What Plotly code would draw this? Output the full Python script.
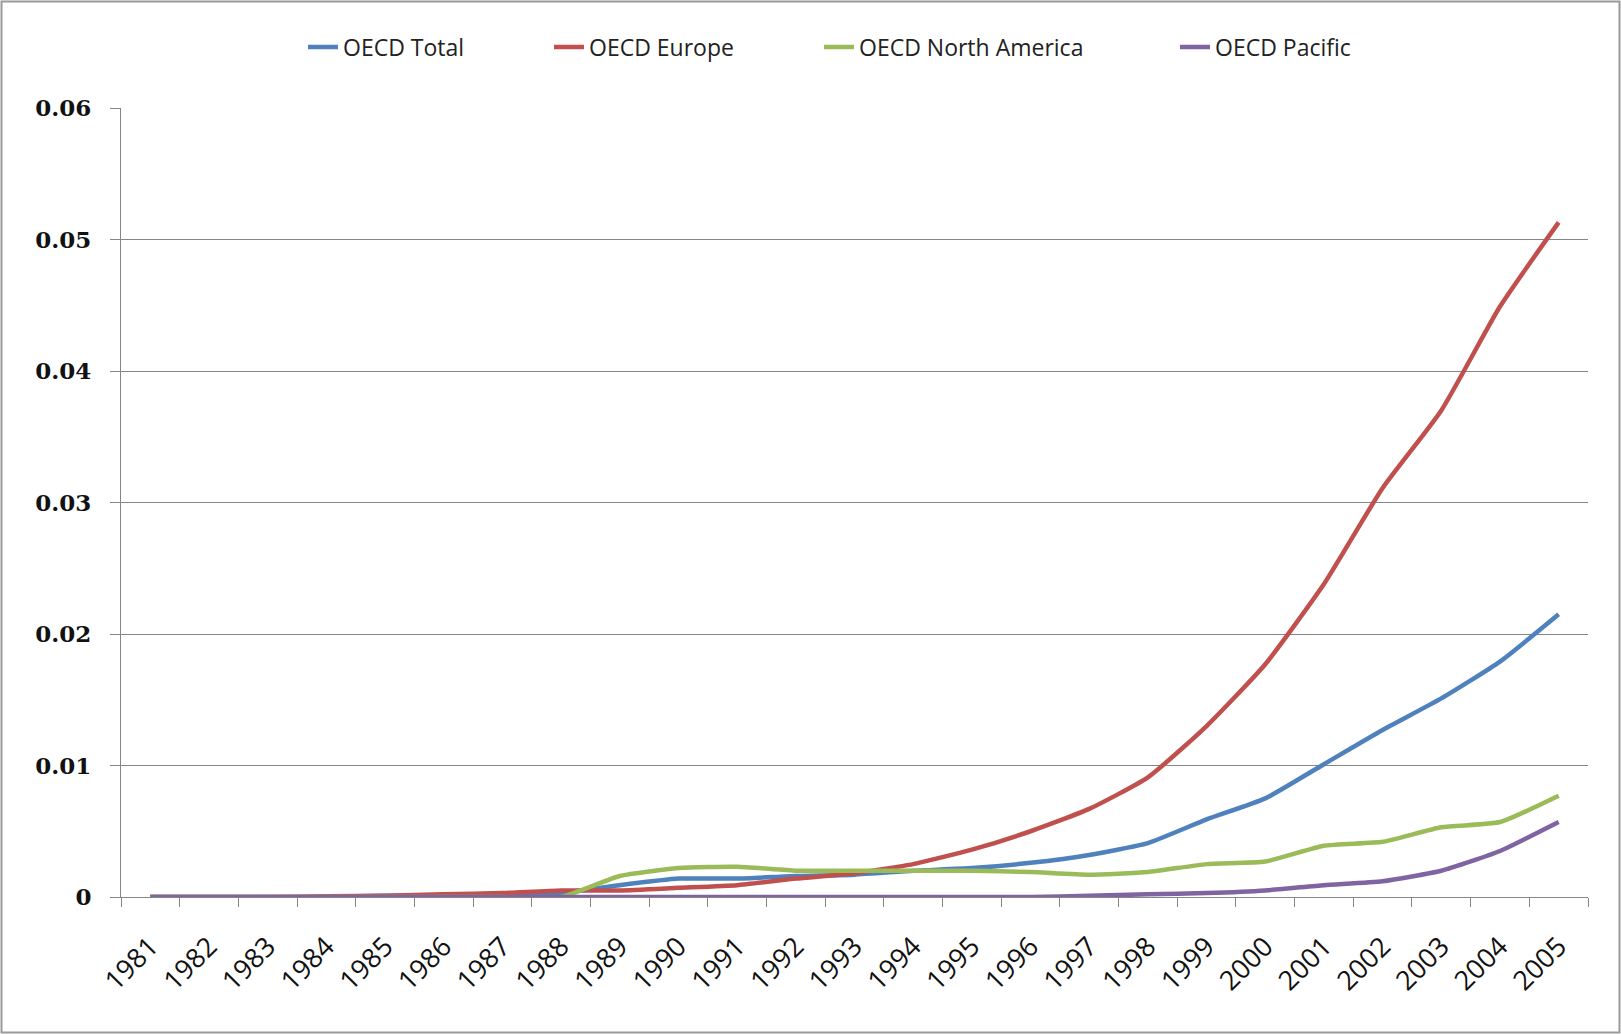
import plotly.graph_objects as go

years = [str(y) for y in range(1981, 2006)]

oecd_total = [0, 0, 0, 0, 0.0001, 0.0001, 0.0002, 0.0003, 0.0009, 0.0014,
              0.0014, 0.0016, 0.0017, 0.0020, 0.0022, 0.0026, 0.0032, 0.0041,
              0.0059, 0.0075, 0.0101, 0.0127, 0.0151, 0.0179, 0.0215]
oecd_europe = [0, 0, 0, 0.00005, 0.0001, 0.0002, 0.0003, 0.0005, 0.0005, 0.0007,
               0.0009, 0.0014, 0.0018, 0.0025, 0.0036, 0.0050, 0.0067, 0.0091,
               0.0130, 0.0177, 0.0238, 0.0311, 0.0370, 0.0449, 0.0513]
oecd_north_america = [0, 0, 0, 0, 0, 0, 0, 0, 0.0016, 0.0022,
                      0.0023, 0.0020, 0.0020, 0.0020, 0.0020, 0.0019, 0.0017, 0.0019,
                      0.0025, 0.0027, 0.0039, 0.0042, 0.0053, 0.0057, 0.0077]
oecd_pacific = [0, 0, 0, 0, 0, 0, 0, 0, 0, 0,
                0, 0, 0, 0, 0, 0, 0.0001, 0.0002,
                0.0003, 0.0005, 0.0009, 0.0012, 0.0020, 0.0035, 0.0057]

series_names = ["OECD Total", "OECD Europe", "OECD North America", "OECD Pacific"]
series_values = [oecd_total, oecd_europe, oecd_north_america, oecd_pacific]
series_colors = ["#4F81BD", "#C0504D", "#9BBB59", "#8064A2"]
legend_text_px = [343, 589, 859, 1215]   # where each legend label starts

W, H = 1621, 1034
ML, MR, MT, MB = 121, 33, 108, 137
PW, PH = W - ML - MR, H - MT - MB

fig = go.Figure()
legend_ids = ["legend", "legend2", "legend3", "legend4"]
for name, vals, color, lid in zip(series_names, series_values, series_colors, legend_ids):
    fig.add_trace(go.Scatter(
        x=years, y=vals, name=name, mode="lines", legend=lid,
        line=dict(color=color, width=4.5, shape="spline", smoothing=0.5),
        hoverinfo="skip",
    ))

grid = "#868686"
legend_cfg = {}
for lid, tx in zip(legend_ids, legend_text_px):
    legend_cfg[lid] = dict(
        orientation="h", x=(tx - 40 - ML) / PW, xanchor="left",
        y=1 + (MT - 47) / PH, yanchor="middle",
        font=dict(family="Open Sans", size=23, color="#222222"),
        bgcolor="rgba(0,0,0,0)",
    )

fig.update_layout(
    width=W, height=H, autosize=False,
    margin=dict(l=ML, r=MR, t=MT, b=MB),
    paper_bgcolor="white", plot_bgcolor="white",
    showlegend=True,
    xaxis=dict(
        type="category", tickson="boundaries", ticks="outside", ticklen=9,
        tickcolor=grid, showline=True, linecolor=grid, linewidth=1,
        showgrid=False, tickangle=-45, range=[-0.5, 24.5],
        tickfont=dict(family="Open Sans", size=27, color="#111111"),
        ticklabelstandoff=22,
    ),
    yaxis=dict(
        range=[0, 0.06], dtick=0.01, tick0=0, ticks="outside", ticklen=10,
        tickcolor=grid, showline=True, linecolor=grid, linewidth=1,
        showgrid=True, gridcolor=grid, gridwidth=1, zeroline=False,
        tickfont=dict(family="DejaVu Serif", size=23, color="#111111"),
        ticklabelstandoff=14,
        tickprefix="<b>", ticksuffix="</b>",
    ),
    shapes=[dict(
        type="rect", xref="paper", yref="paper",
        x0=(1.5 - ML) / PW, x1=(W - 1.5 - ML) / PW,
        y0=-(MB - 1.5) / PH, y1=1 + (MT - 1.5) / PH,
        line=dict(color="#9a9a9a", width=2), layer="below",
    )],
    **legend_cfg,
)

fig.write_html("out.html")
